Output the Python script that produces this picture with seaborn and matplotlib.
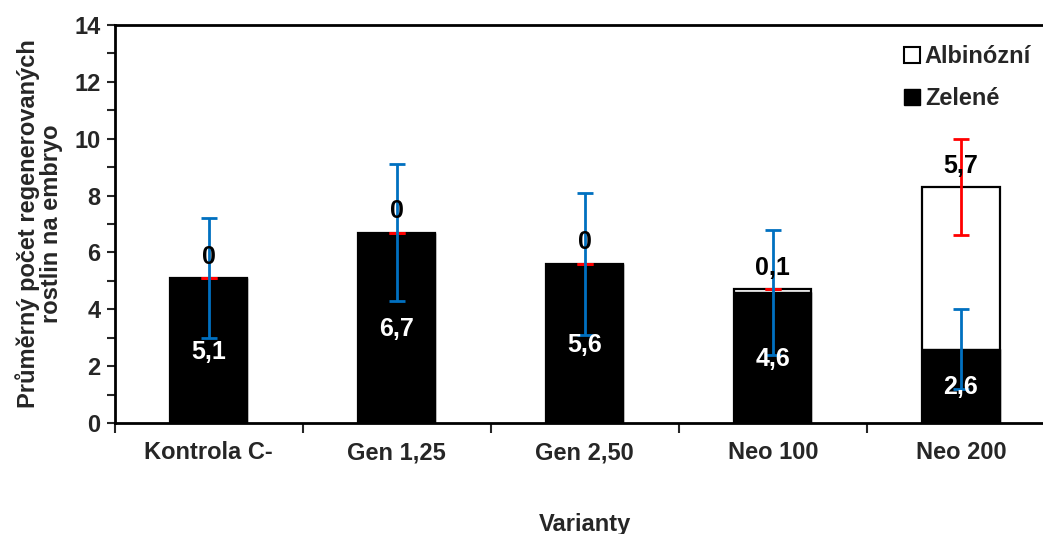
import matplotlib
matplotlib.use("Agg")
import matplotlib.pyplot as plt
import numpy as np
import pandas as pd
import seaborn as sns
from matplotlib.patches import Patch
from matplotlib.ticker import FixedLocator, MultipleLocator

# ---------------------------------------------------------------------------
# Data
# ---------------------------------------------------------------------------
varianty = ["Kontrola C-", "Gen 1,25", "Gen 2,50", "Neo 100", "Neo 200"]
zelene = [5.1, 6.7, 5.6, 4.6, 2.6]
albinozni = [0.0, 0.0, 0.0, 0.1, 5.7]
zelene_sd = [2.1, 2.4, 2.5, 2.2, 1.4]
albinozni_sd = [0.0, 0.0, 0.0, 0.0, 1.7]
zelene_txt = ["5,1", "6,7", "5,6", "4,6", "2,6"]
albinozni_txt = ["0", "0", "0", "0,1", "5,7"]

df = pd.DataFrame({
    "varianta": varianty,
    "zelene": zelene,
    "albinozni": albinozni,
})
df["celkem"] = df["zelene"] + df["albinozni"]

# ---------------------------------------------------------------------------
# Figure
# ---------------------------------------------------------------------------
sns.set_style("white")
plt.rcParams["font.family"] = ["Liberation Sans", "DejaVu Sans"]
plt.rcParams["font.weight"] = "bold"

FS = 17
W, H = 1043, 534
fig = plt.figure(figsize=(W / 100, H / 100), dpi=100)
# axes extends slightly past the right edge (cropped in the original)
ax = fig.add_axes([114.5 / W, (H - 423) / H, 940.5 / W, (423 - 25) / H])

bar_w = 0.41
sns.barplot(data=df, x="varianta", y="celkem", order=varianty, color="white",
            edgecolor="black", linewidth=1.6, width=bar_w, ax=ax,
            saturation=1, errorbar=None)
sns.barplot(data=df, x="varianta", y="zelene", order=varianty, color="black",
            edgecolor="black", linewidth=1.0, width=bar_w, ax=ax,
            saturation=1, errorbar=None)

x = np.arange(len(varianty))
ax.errorbar(x, df["celkem"], yerr=albinozni_sd, fmt="none", ecolor="#ff0000",
            elinewidth=2, capsize=6, capthick=2, zorder=5)
ax.errorbar(x, df["zelene"], yerr=zelene_sd, fmt="none", ecolor="#0070c0",
            elinewidth=2, capsize=6, capthick=2, zorder=6)

for i in range(len(varianty)):
    ax.text(x[i], zelene[i] / 2 - 0.05, zelene_txt[i], color="white",
            ha="center", va="center", fontsize=FS + 1, fontweight="bold",
            zorder=7)
    ax.text(x[i], df["celkem"][i] + 0.75, albinozni_txt[i], color="black",
            ha="center", va="center", fontsize=FS + 1, fontweight="bold",
            zorder=7)

ax.set_xlim(-0.5, len(varianty) - 0.5)
ax.set_ylim(0, 14)
ax.yaxis.set_major_locator(MultipleLocator(2))
ax.yaxis.set_minor_locator(MultipleLocator(1))
ax.xaxis.set_minor_locator(FixedLocator(np.arange(-0.5, len(varianty), 1.0)))
ax.tick_params(axis="y", which="both", direction="out", length=6, width=1.5,
               left=True, labelsize=FS, pad=4)
ax.tick_params(axis="x", which="major", length=0, labelsize=FS, pad=13)
ax.tick_params(axis="x", which="minor", direction="out", length=7, width=1.5,
               bottom=True)
for lab in ax.get_xticklabels() + ax.get_yticklabels():
    lab.set_fontweight("bold")

for side in ["left", "bottom", "top"]:
    ax.spines[side].set_visible(True)
    ax.spines[side].set_linewidth(2)
    ax.spines[side].set_color("black")
ax.spines["right"].set_visible(False)

ax.set_xlabel("Varianty", fontsize=FS, fontweight="bold", labelpad=35)
ax.set_ylabel("Průměrný počet regenerovaných\nrostlin na embryo", fontsize=FS,
              fontweight="bold", labelpad=8, linespacing=1.0)

handles = [Patch(facecolor="white", edgecolor="black", linewidth=1.5),
           Patch(facecolor="black", edgecolor="black")]
fig.legend(handles, ["Albinózní", "Zelené"], loc="upper right",
           bbox_to_anchor=(1.009, 0.955), frameon=False,
           handlelength=0.7, handleheight=0.7, handletextpad=0.2,
           labelspacing=0.8, prop={"weight": "bold", "size": FS})

fig.savefig("out.png", dpi=100)
